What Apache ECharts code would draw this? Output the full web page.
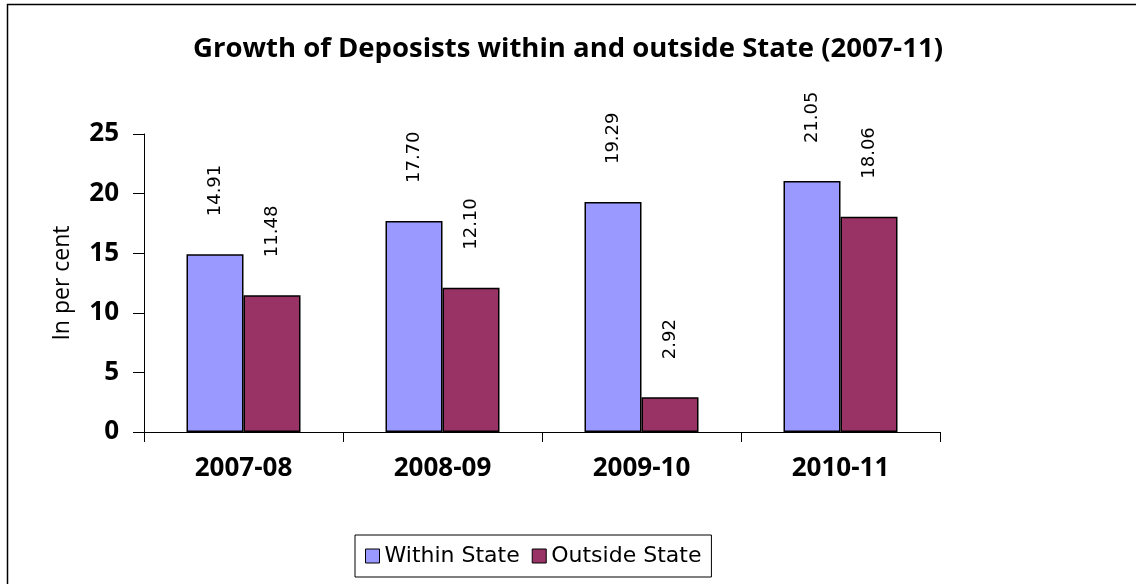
<!DOCTYPE html>
<html><head><meta charset="utf-8">
<script src="https://cdn.jsdelivr.net/npm/echarts@6/dist/echarts.min.js"></script>
<style>html,body{margin:0;padding:0;background:#fff}#c{width:1136px;height:584px}</style>
</head><body><div id="c"></div>
<script>
const categories = ['2007-08', '2008-09', '2009-10', '2010-11'];
const withinState = [14.91, 17.70, 19.29, 21.05];
const outsideState = [11.48, 12.10, 2.92, 18.06];
const seriesNames = ['Within State', 'Outside State'];
const yTicks = [0, 5, 10, 15, 20, 25];

const chart = echarts.init(document.getElementById('c'), null, {renderer: 'canvas'});
const labelCfg = {
  show: true, position: 'top', rotate: 90, distance: 38,
  align: 'left', verticalAlign: 'middle',
  color: '#000', fontFamily: 'DejaVu Sans', fontSize: 18,
  formatter: p => p.value.toFixed(2)
};
chart.setOption({
  animation: false,
  backgroundColor: '#fff',
  graphic: [{type: 'rect', shape: {x: 7.5, y: 4.5, width: 1140, height: 600},
    style: {fill: 'none', stroke: '#000', lineWidth: 1.5}, silent: true}],
  title: {
    text: 'Growth of Deposists within and outside State (2007-11)',
    left: 'center', top: 30,
    textStyle: {fontFamily: 'Open Sans', fontWeight: 'bold', fontSize: 27.5, color: '#000'}
  },
  legend: {
    data: seriesNames, left: 355, top: 535,
    borderColor: '#000', borderWidth: 1, padding: [10, 10, 10, 10],
    itemWidth: 14, itemHeight: 14, itemGap: 12,
    icon: 'rect',
    itemStyle: {borderColor: '#000', borderWidth: 1},
    textStyle: {fontFamily: 'DejaVu Sans', fontSize: 22, color: '#000'}
  },
  grid: {left: 144, right: 196, top: 134, bottom: 152, containLabel: false},
  xAxis: {
    type: 'category', data: categories,
    axisLine: {lineStyle: {color: '#000', width: 1}},
    axisTick: {show: true, length: 10, lineStyle: {color: '#000'}},
    axisLabel: {margin: 24, color: '#000', fontFamily: 'Open Sans', fontWeight: 'bold', fontSize: 26}
  },
  yAxis: {
    type: 'value', min: 0, max: 25, interval: 5,
    name: 'In per cent', nameLocation: 'middle', nameGap: 70,
    nameTextStyle: {fontFamily: 'Open Sans', fontSize: 23, color: '#000'},
    splitLine: {show: false},
    axisLine: {show: true, lineStyle: {color: '#000', width: 1}},
    axisTick: {show: true, length: 11, lineStyle: {color: '#000'}},
    axisLabel: {margin: 25, color: '#000', fontFamily: 'Open Sans', fontWeight: 'bold', fontSize: 26,
      formatter: v => yTicks.includes(v) ? String(v) : ''}
  },
  series: [
    {name: seriesNames[0], type: 'bar', data: withinState, barWidth: 57, barGap: '0%',
      itemStyle: {color: '#9999FF', borderColor: '#000', borderWidth: 1.5}, label: labelCfg},
    {name: seriesNames[1], type: 'bar', data: outsideState, barWidth: 57, barGap: '0%',
      itemStyle: {color: '#993366', borderColor: '#000', borderWidth: 1.5}, label: labelCfg}
  ]
});
</script></body></html>
